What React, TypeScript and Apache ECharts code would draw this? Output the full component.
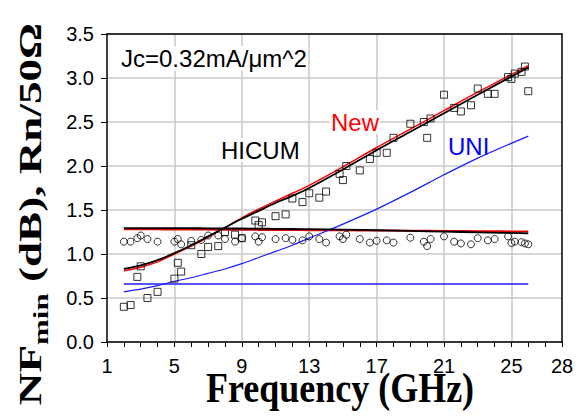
import React, { useEffect, useRef } from "react";
import * as echarts from "echarts";

// Measured frequencies (GHz)
const freq = [2, 2.4, 2.8, 3, 3.4, 4, 5, 5.2, 5.4, 6, 6.6, 7, 7.6, 8, 8.6, 9, 9.8, 10, 10.2, 11, 11.6, 12, 12.6, 13, 13.6, 14, 14.8, 15, 15.2, 16, 16.6, 17, 17.6, 18, 19, 19.8, 20, 20.2, 21, 21.6, 22, 22.6, 23, 23.6, 24, 24.8, 25, 25.2, 25.6, 25.8, 26];
// Measured NFmin (squares)
const nfMeas = [0.40, 0.42, 0.74, 0.86, 0.50, 0.57, 0.72, 0.90, 0.80, 1.10, 1.00, 1.08, 1.09, 1.25, 1.22, 1.18, 1.38, 1.33, 1.36, 1.43, 1.45, 1.63, 1.59, 1.69, 1.64, 1.71, 1.91, 1.84, 2.00, 1.95, 2.08, 2.15, 2.15, 2.32, 2.48, 2.50, 2.32, 2.54, 2.81, 2.66, 2.62, 2.69, 2.88, 2.82, 2.82, 3.01, 2.99, 3.05, 3.07, 3.13, 2.85];
// Measured Rn/50 (circles)
const rnMeas = [1.14, 1.14, 1.18, 1.21, 1.17, 1.14, 1.14, 1.17, 1.11, 1.15, 1.16, 1.21, 1.21, 1.17, 1.14, 1.18, 1.20, 1.14, 1.19, 1.17, 1.18, 1.16, 1.155, 1.20, 1.17, 1.13, 1.20, 1.17, 1.22, 1.17, 1.13, 1.15, 1.155, 1.13, 1.185, 1.14, 1.09, 1.17, 1.20, 1.14, 1.12, 1.11, 1.18, 1.155, 1.17, 1.20, 1.125, 1.14, 1.135, 1.12, 1.11];

// Model frequencies
const modelFreq = [2, 3, 4, 5, 6, 7, 8, 9, 10, 11, 12, 13, 15, 17, 19, 21, 23, 26];
const hicumNF = [0.83, 0.87, 0.93, 1.01, 1.10, 1.20, 1.30, 1.40, 1.49, 1.58, 1.66, 1.75, 1.96, 2.18, 2.39, 2.60, 2.81, 3.12];
const newNF = [0.81, 0.85, 0.91, 1.00, 1.09, 1.19, 1.30, 1.41, 1.51, 1.60, 1.69, 1.78, 1.99, 2.21, 2.42, 2.63, 2.84, 3.14];
const uniNF = [0.57, 0.60, 0.64, 0.69, 0.73, 0.78, 0.83, 0.89, 0.96, 1.03, 1.10, 1.18, 1.34, 1.51, 1.70, 1.90, 2.09, 2.34];
const hicumRn = [1.295, 1.295, 1.295, 1.294, 1.293, 1.292, 1.29, 1.29, 1.288, 1.286, 1.284, 1.282, 1.276, 1.27, 1.262, 1.254, 1.246, 1.235];
const newRn = [1.282, 1.281, 1.28, 1.279, 1.278, 1.277, 1.276, 1.275, 1.274, 1.273, 1.272, 1.271, 1.269, 1.267, 1.265, 1.262, 1.259, 1.255];
const uniRn = [0.66, 0.66, 0.66, 0.66, 0.66, 0.66, 0.66, 0.66, 0.66, 0.66, 0.66, 0.66, 0.66, 0.66, 0.66, 0.66, 0.66, 0.66];

// Axis ticks
const xTickLabels = [1, 5, 9, 13, 17, 21, 25, 28];
const xGridLines = [5, 9, 13, 17, 21, 25];

const pair = (xs: number[], ys: number[]) => xs.map((x, i) => [x, ys[i]]);

export default function App() {
  const ref = useRef<HTMLDivElement>(null);
  useEffect(() => {
    document.body.style.margin = "0";
    const chart = echarts.init(ref.current!, null, { renderer: "svg" });
    const sans = "Liberation Sans, Arial, sans-serif";
    const serif = "Liberation Serif, Times New Roman, serif";
    const modelLine = (name: string, ys: number[], color: string, width: number, z: number) => ({
      name,
      type: "line",
      data: pair(modelFreq, ys),
      showSymbol: false,
      symbol: "none",
      smooth: 0.3,
      lineStyle: { color, width },
      z,
      silent: true,
    });
    const label = (text: string, x: number, y: number, fill: string) => ({
      type: "text",
      x,
      y,
      z: 1,
      style: {
        text,
        fontSize: 24,
        fontFamily: sans,
        fill,
        textAlign: "left",
        textVerticalAlign: "middle",
        backgroundColor: "#fff",
        padding: [0, 1],
      },
    });
    const option: any = {
      animation: false,
      grid: { left: 107, top: 34, right: 18, bottom: 75 },
      xAxis: [
        {
          type: "value",
          min: 1,
          max: 28,
          interval: 1,
          axisLine: { show: true, lineStyle: { color: "#000", width: 1.5 } },
          axisTick: { show: true, length: 5, lineStyle: { color: "#000", width: 1 } },
          splitLine: { show: false },
          axisLabel: {
            formatter: (v: number) => (xTickLabels.includes(v) ? String(v) : ""),
            color: "#000",
            fontSize: 20,
            fontFamily: sans,
            margin: 14,
            showMinLabel: true,
            showMaxLabel: true,
            hideOverlap: false,
          },
        },
        {
          type: "value",
          position: "top",
          min: 1,
          max: 28,
          axisLine: { show: true, onZero: false, lineStyle: { color: "#000", width: 1.5 } },
          axisTick: { show: false },
          axisLabel: { show: false },
          splitLine: { show: false },
        },
      ],
      yAxis: [
        {
          type: "value",
          min: 0,
          max: 3.5,
          interval: 0.5,
          axisLine: { show: true, lineStyle: { color: "#000", width: 1.5 } },
          axisTick: { show: true, length: 6, lineStyle: { color: "#000", width: 1 } },
          splitLine: { show: true, lineStyle: { color: "#c8c8c8", width: 1.5 } },
          axisLabel: {
            formatter: (v: number) => v.toFixed(1),
            color: "#000",
            fontSize: 20,
            fontFamily: sans,
            margin: 13,
          },
        },
        {
          type: "value",
          position: "right",
          min: 0,
          max: 3.5,
          axisLine: { show: true, onZero: false, lineStyle: { color: "#000", width: 1.5 } },
          axisTick: { show: false },
          axisLabel: { show: false },
          splitLine: { show: false },
        },
      ],
      series: [
        {
          name: "grid",
          type: "line",
          data: [],
          z: 0,
          silent: true,
          markLine: {
            silent: true,
            z: 0,
            symbol: ["none", "none"],
            label: { show: false },
            lineStyle: { color: "#c8c8c8", width: 1.5, type: "solid" },
            data: xGridLines.map((v) => ({ xAxis: v })),
          },
        },
        modelLine("UNI Rn", uniRn, "#2020ff", 1.5, 3),
        modelLine("New Rn", newRn, "#e00000", 2, 3),
        modelLine("HICUM Rn", hicumRn, "#000000", 1.8, 4),
        modelLine("UNI NFmin", uniNF, "#1a1aff", 1.2, 3),
        modelLine("New NFmin", newNF, "#ff0000", 1.5, 3),
        modelLine("HICUM NFmin", hicumNF, "#000000", 1.8, 4),
        {
          name: "Meas NFmin",
          type: "scatter",
          data: pair(freq, nfMeas),
          symbol: "rect",
          symbolSize: 7,
          itemStyle: { color: "rgba(255,255,255,0)", borderColor: "#000", borderWidth: 1 },
          z: 5,
        },
        {
          name: "Meas Rn",
          type: "scatter",
          data: pair(freq, rnMeas),
          symbol: "circle",
          symbolSize: 7,
          itemStyle: { color: "rgba(255,255,255,0)", borderColor: "#000", borderWidth: 1 },
          z: 5,
        },
      ],
      graphic: [
        label("Jc=0.32mA/μm^2", 120, 58.5, "#000"),
        label("HICUM", 220, 150, "#000"),
        label("New", 330, 122, "#ff0000"),
        label("UNI", 447, 146, "#0000ff"),
        {
          type: "text",
          x: 340,
          y: 388,
          scaleY: 1.15,
          style: {
            text: "Frequency (GHz)",
            fontSize: 36,
            fontWeight: "bold",
            fontFamily: serif,
            fill: "#000",
            textAlign: "center",
            textVerticalAlign: "middle",
          },
        },
        {
          type: "text",
          x: 30,
          y: 214,
          rotation: Math.PI / 2,
          scaleX: 1.41,
          style: {
            text: "{a|NF}{b|min}{a| (dB), Rn/50Ω}",
            fill: "#000",
            textAlign: "center",
            textVerticalAlign: "middle",
            rich: {
              a: { fontSize: 32, fontWeight: "bold", fontFamily: serif, lineHeight: 44, fill: "#000" },
              b: { fontSize: 22, fontWeight: "bold", fontFamily: serif, lineHeight: 22, verticalAlign: "bottom", fill: "#000" },
            },
          },
        },
      ],
    };
    chart.setOption(option);
    return () => chart.dispose();
  }, []);
  return <div ref={ref} style={{ width: 580, height: 417 }} />;
}
